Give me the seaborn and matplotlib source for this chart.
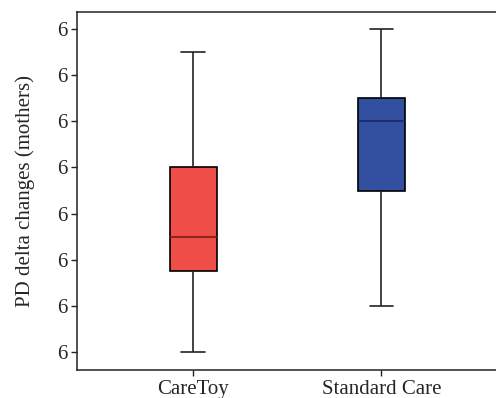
"""
Boxplot PD delta changes (mothers): CareToy vs Standard Care
"""
import matplotlib
matplotlib.use("Agg")
import matplotlib.pyplot as plt
import seaborn as sns
import pandas as pd

# five-number summaries (min, q1, median, q3, max)
groups = ["CareToy", "Standard Care"]
caretoy_vals = [0.0, 1.75, 2.5, 4.0, 6.5]
standard_vals = [1.0, 3.5, 5.0, 5.5, 7.0]
ytick_pos = [0, 1, 2, 3, 4, 5, 6, 7]
ytick_labels = ["6", "6", "6", "6", "6", "6", "6", "6"]

fill_colors = {"CareToy": "#EF4D48", "Standard Care": "#3350A0"}
median_colors = {"CareToy": "#7A1F1C", "Standard Care": "#1C2860"}

df = pd.DataFrame({
    "group": ["CareToy"] * len(caretoy_vals) + ["Standard Care"] * len(standard_vals),
    "value": caretoy_vals + standard_vals,
})

sns.set_style("ticks")
plt.rcParams["font.family"] = ["Liberation Serif", "DejaVu Serif"]

fig = plt.figure(figsize=(4.96, 3.98), dpi=100)
ax = fig.add_axes([77 / 496, 28 / 398, 425 / 496, 358 / 398])

# uma chamada por grupo para ter cor de mediana diferente
for g in groups:
    sub = df[df["group"] == g]
    sns.boxplot(
        data=sub, x="group", y="value", order=groups,
        color=fill_colors[g], saturation=1, width=0.25,
        whis=(0, 100), linecolor="black", linewidth=1.2,
        medianprops={"color": median_colors[g], "linewidth": 1.2},
        whiskerprops={"color": "#222222"}, capprops={"color": "#222222"},
        ax=ax,
    )

ax.set_xlim(-0.617, 1.64)
ax.set_ylim(-0.39, 7.37)
ax.set_yticks(ytick_pos)
ax.set_yticklabels(ytick_labels)
ax.set_xlabel("")
ax.set_ylabel("PD delta changes (mothers)", fontsize=15, labelpad=16)
ax.tick_params(axis="both", labelsize=15, length=4, width=1, color="#222222")
ax.tick_params(axis="y", pad=3)
for s in ax.spines.values():
    s.set_linewidth(1.1)
    s.set_color("#222222")

plt.savefig("out.png", dpi=100)
